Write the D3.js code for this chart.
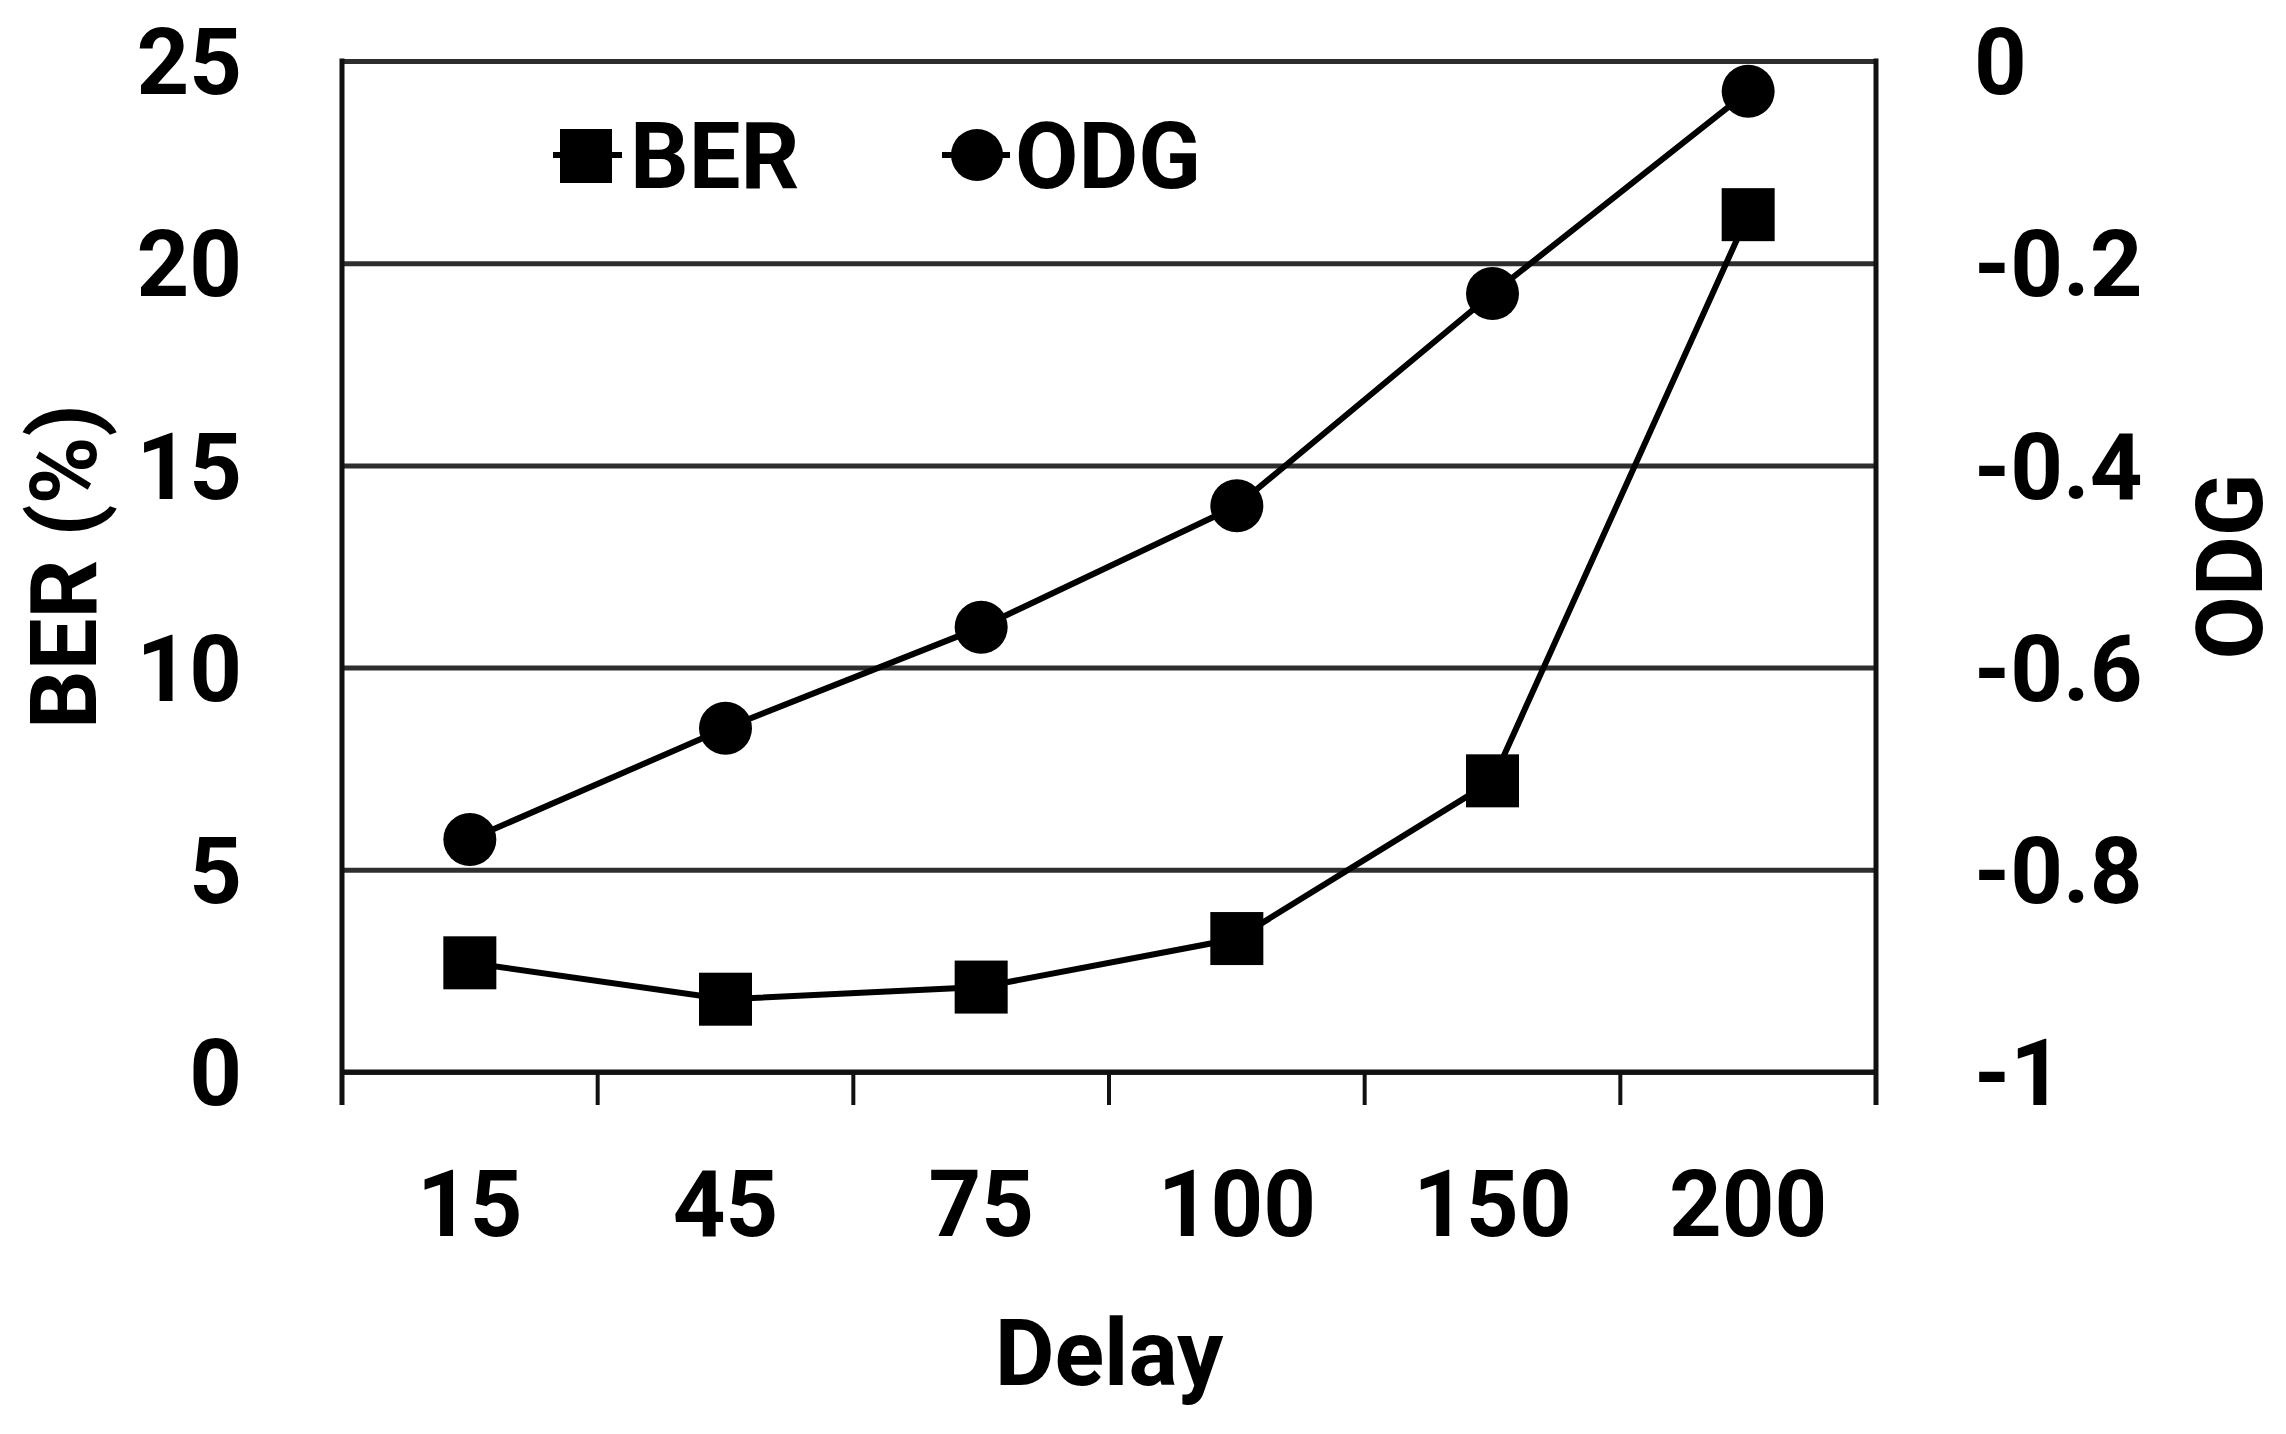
<!DOCTYPE html>
<html>
<head>
<meta charset="utf-8">
<script src="https://cdn.jsdelivr.net/npm/d3@7"></script>
<style>
  html, body { margin: 0; padding: 0; background: #fff; }
  svg text { font-family: Roboto, "Liberation Sans", sans-serif; font-weight: bold; fill: #000; }
</style>
</head>
<body>
<svg id="chart" width="2286" height="1434"></svg>
<script>
// ---- data ----
const categories = ["15", "45", "75", "100", "150", "200"];
const berValues = [2.7, 1.8, 2.1, 3.3, 7.2, 21.2];
const odgValues = [-0.77, -0.66, -0.56, -0.44, -0.23, -0.03];
const leftTicks = [0, 5, 10, 15, 20, 25];
const leftTickLabels = ["0", "5", "10", "15", "20", "25"];
const rightTicks = [0, -0.2, -0.4, -0.6, -0.8, -1];
const rightTickLabels = ["0", "-0.2", "-0.4", "-0.6", "-0.8", "-1"];
const seriesNames = ["BER", "ODG"];

(function () {
const pL = 342, pR = 1876, pT = 61, pB = 1072;
const svg = d3.select("#chart");

const x = d3.scaleBand().domain(categories).range([pL, pR]);
const yL = d3.scaleLinear().domain([0, 25]).range([pB, pT]);
const yR = d3.scaleLinear().domain([-1, 0]).range([pB, pT]);

const FS = 92;

// gridlines
const gridAxis = d3.axisLeft(yL).tickValues(leftTicks).tickSize(-(pR - pL)).tickFormat("");
const grid = svg.append("g").attr("transform", `translate(${pL},0)`).call(gridAxis);
grid.select(".domain").remove();
grid.selectAll(".tick line").attr("stroke", "#2e2e2e").attr("stroke-width", 5);

// left tick labels
const leftAxis = d3.axisLeft(yL).tickValues(leftTicks).tickSize(0).tickPadding(100)
  .tickFormat((d, i) => leftTickLabels[i]);
const gl = svg.append("g").attr("transform", `translate(${pL},0)`).call(leftAxis);
gl.select(".domain").remove();
gl.selectAll("text").attr("font-size", FS).attr("font-family", null).attr("dy", "0.355em");

// right tick labels
const rightAxis = d3.axisRight(yR).tickValues(rightTicks).tickSize(0).tickPadding(98)
  .tickFormat((d, i) => rightTickLabels[i]);
const gr = svg.append("g").attr("transform", `translate(${pR},0)`).call(rightAxis);
gr.select(".domain").remove();
gr.selectAll("text").attr("font-size", FS).attr("font-family", null).attr("dy", "0.355em");

// bottom axis labels
const bottomAxis = d3.axisBottom(x).tickSize(0).tickPadding(0);
const gb = svg.append("g").attr("transform", `translate(0,${pB})`).call(bottomAxis);
gb.select(".domain").remove();
gb.selectAll("text").attr("font-size", FS).attr("font-family", null).attr("dy", null).attr("y", 164);

// frame lines
const frame = svg.append("g");
frame.append("line").attr("x1", pL).attr("x2", pR).attr("y1", pB).attr("y2", pB)
  .attr("stroke", "#111").attr("stroke-width", 5);
frame.append("line").attr("x1", pL).attr("x2", pL).attr("y1", pT - 2.5).attr("y2", pB + 33)
  .attr("stroke", "#111").attr("stroke-width", 5);
frame.append("line").attr("x1", pR).attr("x2", pR).attr("y1", pT - 2.5).attr("y2", pB + 33)
  .attr("stroke", "#111").attr("stroke-width", 5);
const bounds = categories.map(c => x(c)).slice(1);
frame.selectAll("line.tk").data(bounds).enter().append("line").attr("class", "tk")
  .attr("x1", d => d).attr("x2", d => d).attr("y1", pB).attr("y2", pB + 33)
  .attr("stroke", "#111").attr("stroke-width", 4);

// series
const cx = c => x(c) + x.bandwidth() / 2;
const lineBer = d3.line().x((d, i) => cx(categories[i])).y(d => yL(d));
const lineOdg = d3.line().x((d, i) => cx(categories[i])).y(d => yR(d));

svg.append("path").attr("d", lineOdg(odgValues)).attr("fill", "none").attr("stroke", "#000").attr("stroke-width", 6);
svg.append("path").attr("d", lineBer(berValues)).attr("fill", "none").attr("stroke", "#000").attr("stroke-width", 6);

const MS = 53;
svg.selectAll("circle.odg").data(odgValues).enter().append("circle").attr("class", "odg")
  .attr("cx", (d, i) => cx(categories[i])).attr("cy", d => yR(d)).attr("r", MS / 2).attr("fill", "#000");
svg.selectAll("rect.ber").data(berValues).enter().append("rect").attr("class", "ber")
  .attr("x", (d, i) => cx(categories[i]) - MS / 2).attr("y", d => yL(d) - MS / 2)
  .attr("width", MS).attr("height", MS).attr("fill", "#000");

// legend
const leg = svg.append("g");
leg.append("line").attr("x1", 553).attr("x2", 622).attr("y1", 155).attr("y2", 155).attr("stroke", "#000").attr("stroke-width", 6);
leg.append("rect").attr("x", 560).attr("y", 129).attr("width", 52).attr("height", 54).attr("fill", "#000");
leg.append("text").attr("x", 630).attr("y", 188).attr("font-size", FS).text(seriesNames[0]);
leg.append("line").attr("x1", 942).attr("x2", 1010).attr("y1", 155).attr("y2", 155).attr("stroke", "#000").attr("stroke-width", 6);
leg.append("circle").attr("cx", 977).attr("cy", 155).attr("r", 26).attr("fill", "#000");
leg.append("text").attr("x", 1015).attr("y", 188).attr("font-size", FS).text(seriesNames[1]);

// axis titles
svg.append("text").attr("font-size", FS).attr("text-anchor", "middle")
  .attr("x", (pL + pR) / 2).attr("y", 1385).text("Delay");
svg.append("text").attr("font-size", FS).attr("text-anchor", "middle")
  .attr("transform", `translate(96,${(pT + pB) / 2}) rotate(-90)`).text("BER (%)");
svg.append("text").attr("font-size", FS).attr("text-anchor", "middle")
  .attr("transform", `translate(2262,${(pT + pB) / 2}) rotate(-90)`).text("ODG");
})();
</script>
</body>
</html>
